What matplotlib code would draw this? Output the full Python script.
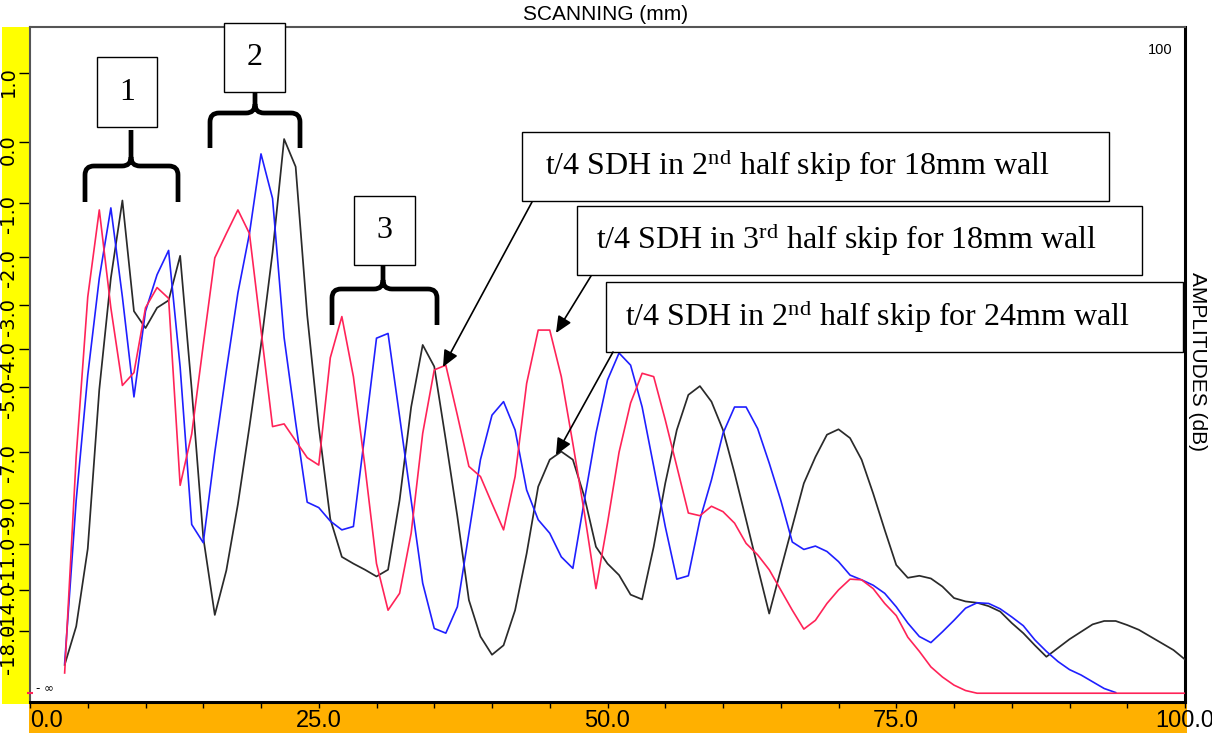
import numpy as np
import matplotlib
matplotlib.use('Agg')
import matplotlib.pyplot as plt
from matplotlib.patches import Rectangle, PathPatch, FancyArrowPatch, ArrowStyle
from matplotlib.path import Path
from matplotlib.transforms import Affine2D

# ---------------- data ----------------
scan_start_mm = 3          # first sample position (mm)
scan_step_mm = 1           # sampling step (mm)

red_amp = [4.3, 36.4, 60.0, 72.9, 58.4, 46.9, 48.8, 58.4, 61.4, 59.8,
           32.1, 39.7, 52.9, 65.8, 69.4, 72.9, 69.4, 55.1, 40.8, 41.2,
           38.7, 36.2, 35.1, 51.0, 57.1, 48.2, 34.9, 20.5, 13.6, 16.1,
           25.0, 39.8, 49.2, 49.9, 42.5, 34.9, 33.4, 29.4, 25.5, 33.4,
           47.2, 55.1, 55.1, 48.2, 38.3, 28.0, 16.8, 26.5, 37.0, 44.3,
           48.7, 48.2, 41.8, 34.9, 28.0, 27.6, 29.0, 28.2, 26.5, 23.5,
           21.8, 19.6, 16.6, 13.6, 10.8, 12.1, 14.6, 16.6, 18.2, 18.1,
           16.8, 14.6, 12.8, 9.6, 7.5, 5.2, 3.7, 2.5, 1.7, 1.3,
           1.3, 1.3, 1.3, 1.3, 1.3, 1.3, 1.3, 1.3, 1.3, 1.3,
           1.3, 1.3, 1.3, 1.3, 1.3, 1.3, 1.3, 1.3]

blue_amp = [5.7, 29.9, 48.4, 62.8, 73.2, 60.0, 45.2, 57.9, 63.3, 66.9,
            49.6, 26.3, 23.6, 37.0, 49.1, 60.6, 69.4, 81.2, 74.6, 54.0,
            41.4, 29.6, 28.8, 26.8, 25.5, 26.0, 39.8, 53.9, 54.6, 42.3,
            29.9, 17.6, 10.9, 10.2, 14.1, 25.0, 35.9, 42.5, 44.5, 40.3,
            31.4, 27.0, 25.0, 21.5, 19.8, 29.9, 39.8, 47.7, 51.7, 49.9,
            43.7, 34.9, 26.0, 18.2, 18.7, 27.0, 32.9, 39.8, 43.7, 43.7,
            40.5, 35.4, 29.9, 23.7, 22.6, 23.1, 22.3, 20.8, 18.8, 18.1,
            17.3, 16.1, 14.1, 11.7, 9.7, 8.8, 10.4, 12.1, 13.9, 14.7,
            14.6, 13.8, 12.6, 11.3, 9.2, 7.5, 6.0, 4.8, 4.0, 3.0,
            2.0, 1.4]

black_amp = [5.5, 11.2, 22.7, 46.3, 62.8, 74.3, 57.9, 55.4, 58.4, 59.5,
             66.1, 46.3, 24.4, 12.9, 19.5, 29.3, 40.8, 52.9, 66.6, 83.4,
             79.3, 57.3, 40.8, 27.1, 21.5, 20.5, 19.6, 18.6, 19.6, 29.9,
             43.7, 52.9, 49.7, 38.8, 27.5, 15.1, 9.7, 7.0, 8.4, 13.6,
             22.0, 31.9, 35.9, 37.1, 35.9, 30.4, 23.0, 20.5, 18.8, 15.9,
             15.2, 23.0, 32.4, 40.3, 45.5, 46.8, 44.5, 40.3, 33.9, 27.0,
             20.0, 13.1, 19.6, 26.0, 32.4, 36.3, 39.6, 40.4, 39.1, 35.9,
             30.9, 25.5, 20.3, 18.4, 18.7, 18.3, 17.1, 15.4, 14.9, 14.7,
             14.2, 13.4, 11.7, 10.2, 8.4, 6.7, 8.0, 9.3, 10.4, 11.5,
             12.0, 12.0, 11.4, 10.7, 9.7, 8.7, 7.7, 6.3]

x_major_ticks = [0, 25, 50, 75, 100]
x_tick_labels = ['0.0', '25.0', '50.0', '75.0', '100.0']
x_minor_step = 5
db_ticks = [1.0, 0.0, -1.0, -2.0, -3.0, -4.0, -5.0, -7.0, -9.0, -11.0, -14.0, -18.0]
db_tick_labels = ['1.0', '0.0', '-1.0', '-2.0', '-3.0', '-4.0', '-5.0',
                  '-7.0', '-9.0', '-11.0', '-14.0', '-18.0']
ref_amp_0db = 83.0     # amplitude level of 0 dB
floor_amp = 1.3        # "-inf" level

box_labels = ['1', '2', '3']
note_texts = [r't/4 SDH in 2$^{\mathrm{nd}}$ half skip for 18mm wall',
              r't/4 SDH in 3$^{\mathrm{rd}}$ half skip for 18mm wall',
              r't/4 SDH in 2$^{\mathrm{nd}}$ half skip for 24mm wall']

# ---------------- style ----------------
plt.rcParams['font.family'] = ['Liberation Sans', 'DejaVu Sans']
plt.rcParams['mathtext.fontset'] = 'custom'
plt.rcParams['mathtext.rm'] = 'Liberation Serif'
plt.rcParams['mathtext.it'] = 'Liberation Serif:italic'
plt.rcParams['mathtext.bf'] = 'Liberation Serif:bold'

RED = '#ff2358'
BLUE = '#1f1fff'
BLACK = '#2a2a2a'

W, H = 1212, 736
fig = plt.figure(figsize=(W / 100, H / 100), dpi=100)
fig.patch.set_facecolor('white')
PX = Affine2D().scale(1 / W, -1 / H).translate(0, 1) + fig.transFigure

# coloured strips
fig.add_artist(Rectangle((2, 27), 27, 677, transform=PX, facecolor='#ffff00',
                         edgecolor='none', zorder=-2))
fig.add_artist(Rectangle((29, 703), 1158, 30, transform=PX, facecolor='#ffb000',
                         edgecolor='none', zorder=-2))

ax = fig.add_axes([30 / W, 1 - 702 / H, 1155 / W, 675 / H])
ax.set_xlim(0, 100)
ax.set_ylim(0, 100)
ax.set_facecolor('white')

def xs(arr):
    return scan_start_mm + scan_step_mm * np.arange(len(arr))

ax.plot(xs(black_amp), black_amp, color=BLACK, lw=1.25, zorder=3)
ax.plot(xs(blue_amp), blue_amp, color=BLUE, lw=1.2, zorder=3)
ax.plot(xs(red_amp), red_amp, color=RED, lw=1.2, zorder=3)
ax.plot([0], [floor_amp], marker='_', ms=5, mew=1.5, color=RED, clip_on=False, zorder=4)

# spines
for s in ['top', 'left']:
    ax.spines[s].set_color('#555555')
    ax.spines[s].set_linewidth(1.5)
for s in ['right', 'bottom']:
    ax.spines[s].set_color('black')
    ax.spines[s].set_linewidth(2.2)

# x ticks
ax.set_xticks(x_major_ticks, x_tick_labels)
ax.set_xticks(np.arange(0, 101, x_minor_step), minor=True)
ax.tick_params(axis='x', which='both', direction='out', length=4.5, width=1,
               colors='black', pad=1.5, labelsize=17)
for lbl in ax.get_xticklabels():
    lbl.set_family(['Liberation Sans Narrow', 'Liberation Sans'])
ax.get_xticklabels()[0].set_horizontalalignment('left')

# y ticks (dB scale on linear amplitude)
ytick_pos = [ref_amp_0db * 10 ** (d / 20.0) for d in db_ticks]
ax.set_yticks(ytick_pos, db_tick_labels)
ax.tick_params(axis='y', which='both', direction='out', length=8, width=1,
               colors='black', pad=0.5, labelsize=14, labelrotation=90)
for lbl in ax.get_yticklabels():
    lbl.set_family(['DejaVu Sans'])

# texts around the plot
fig.text(606 / W, 1 - 14 / H, 'SCANNING (mm)', ha='center', va='center', fontsize=15)
fig.text(1198 / W, 1 - 362 / H, 'AMPLITUDES (dB)', ha='center', va='center',
         rotation=-90, fontsize=15)
fig.text(1160 / W, 1 - 50 / H, '100', ha='center', va='center', fontsize=10.5)
fig.text(36 / W, 1 - 688 / H, '- \u221e', ha='left', va='center', fontsize=8.5,
         family=['DejaVu Sans'])

# numbered boxes
num_boxes = [(97, 57, 60, 70), (224, 23, 61, 69), (354, 196, 61, 69)]
for (bx, by, bw, bh), lab in zip(num_boxes, box_labels):
    fig.add_artist(Rectangle((bx, by), bw, bh, transform=PX, facecolor='white',
                             edgecolor='black', lw=1.0, zorder=5))
    fig.text((bx + bw / 2) / W, 1 - (by + bh / 2) / H, lab, ha='center', va='center',
             fontsize=23, family=['Liberation Serif'], zorder=6)

# braces
def brace(xl, xr, xc, ybot, ybar, ytop, r=9):
    verts = [(xl, ybot), (xl, ybar + r), (xl, ybar), (xl + r, ybar),
             (xc - r, ybar), (xc, ybar), (xc, ybar - r), (xc, ytop),
             (xr, ybot), (xr, ybar + r), (xr, ybar), (xr - r, ybar),
             (xc + r, ybar), (xc, ybar), (xc, ybar - r)]
    codes = [Path.MOVETO, Path.LINETO, Path.CURVE3, Path.CURVE3,
             Path.LINETO, Path.CURVE3, Path.CURVE3, Path.LINETO,
             Path.MOVETO, Path.LINETO, Path.CURVE3, Path.CURVE3,
             Path.LINETO, Path.CURVE3, Path.CURVE3]
    fig.add_artist(PathPatch(Path(verts, codes), transform=PX, fill=False,
                             edgecolor='black', lw=3.4, capstyle='butt',
                             joinstyle='round', zorder=5))

brace(85, 178, 131, 202, 166, 130)
brace(210, 300, 255, 148, 113, 93)
brace(332, 437, 383, 325, 289, 266)

# annotation boxes
note_boxes = [(522, 132, 587, 69, 545), (577, 206, 565, 69, 596), (606, 282, 577, 70, 625)]
for (bx, by, bw, bh, tx), txt in zip(note_boxes, note_texts):
    fig.add_artist(Rectangle((bx, by), bw, bh, transform=PX, facecolor='white',
                             edgecolor='black', lw=1.0, zorder=5))
    fig.text(tx / W, 1 - (by + bh / 2 - 1) / H, txt, ha='left', va='center',
             fontsize=23, family=['Liberation Serif'], zorder=6)

# arrows
arrows = [((532, 202), (443, 367)), ((591, 276), (556, 333)), ((613, 352), (556, 455))]
for a, b in arrows:
    fig.add_artist(FancyArrowPatch(a, b, transform=PX,
                                   arrowstyle=ArrowStyle('-|>', head_length=10, head_width=4.5),
                                   mutation_scale=1, lw=1.2, color='black',
                                   shrinkA=0, shrinkB=0, zorder=6))

fig.savefig('out.png', dpi=100)
